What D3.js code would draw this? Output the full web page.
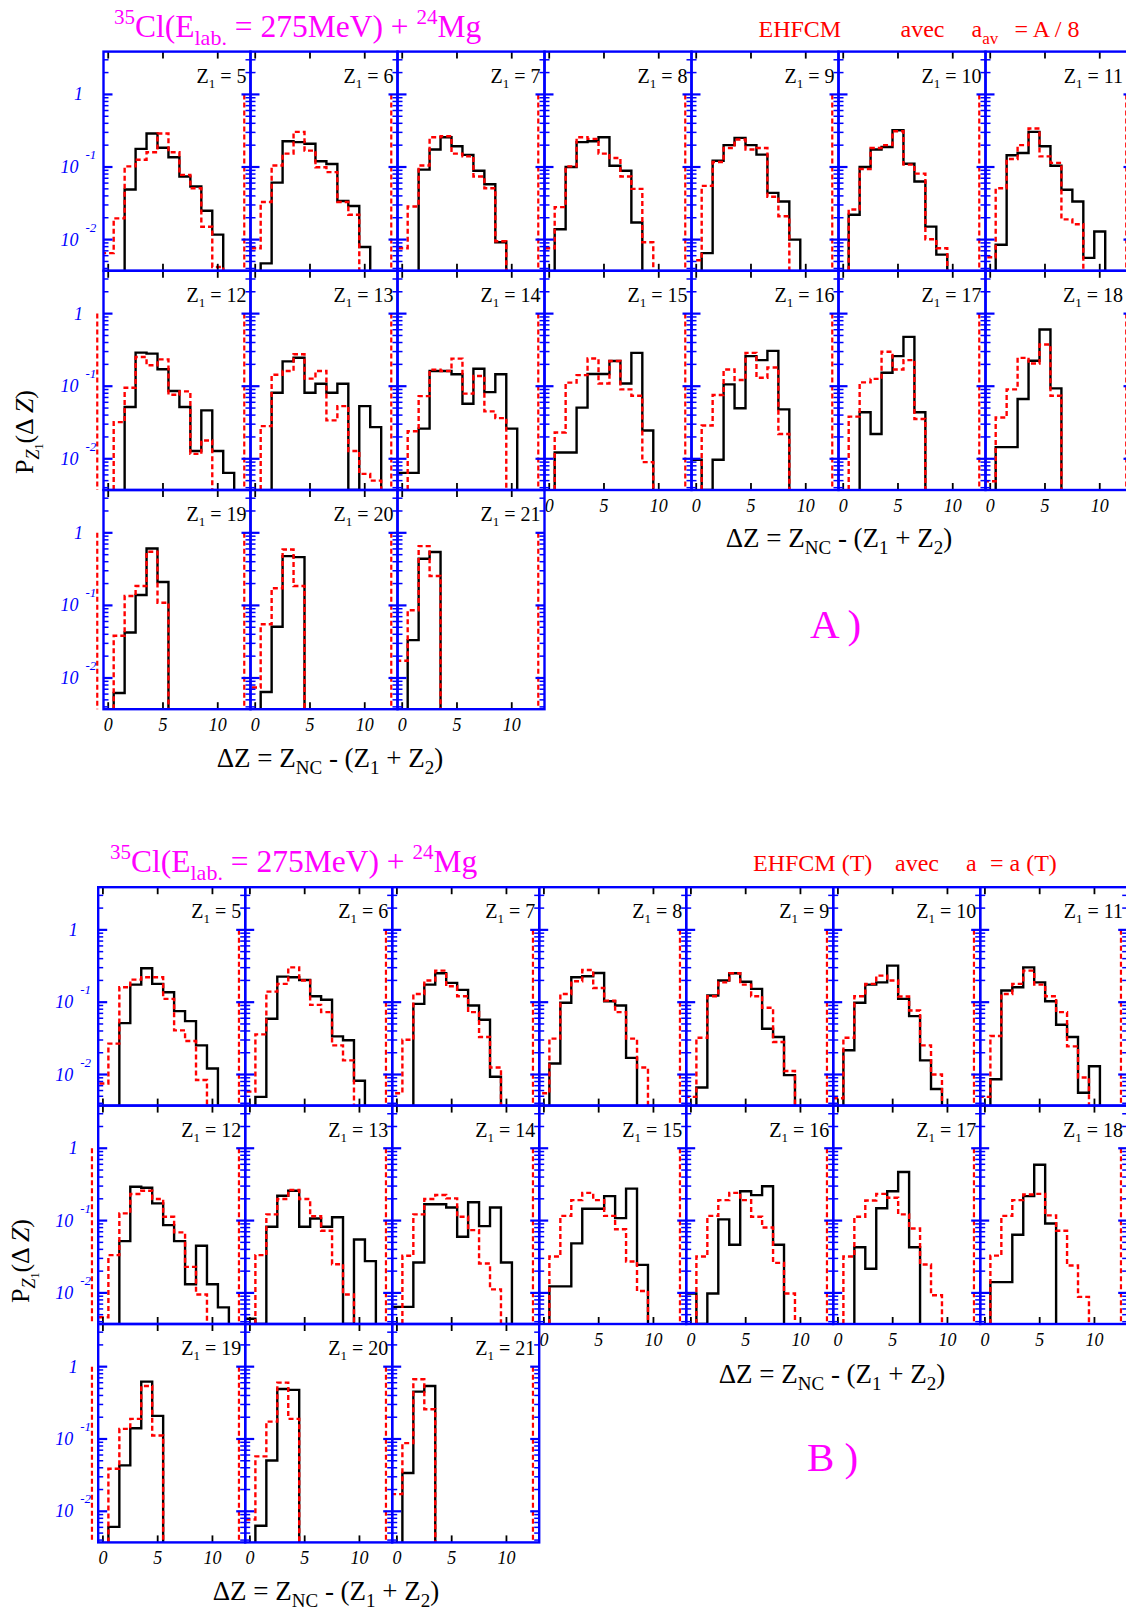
<!DOCTYPE html>
<html><head><meta charset="utf-8">
<script src="https://cdn.jsdelivr.net/npm/d3@7"></script>
<style>
body{margin:0;background:#fff}
svg{display:block}
text{font-family:"Liberation Serif","Times New Roman",serif}
</style>
</head><body>
<svg id="c" width="1126" height="1610"></svg>
<script>
// ---------- data ----------
const zLabels = d3.range(5, 22);            // Z1 = 5 ... 21
const xTicks = [0, 5, 10];
const yTickLabels = [{v: 1, b: "1", e: ""}, {v: 0.1, b: "10", e: "-1"}, {v: 0.01, b: "10", e: "-2"}];
// histograms: value of bin ΔZ = 0,1,2,...  (0 = empty)
const expA = [
 [0,0,0.049,0.178,0.29,0.184,0.136,0.074,0.054,0.025,0.0117],
 [0,0.0047,0.061,0.226,0.22,0.209,0.12,0.11,0.034,0.029,0.0079],
 [0,0,0.092,0.174,0.257,0.193,0.147,0.089,0.058,0.0092],
 [0,0.0139,0.1,0.22,0.226,0.257,0.104,0.089,0.0172],
 [0,0.0065,0.122,0.2,0.252,0.2,0.148,0.044,0.0335,0.01],
 [0,0.022,0.1,0.174,0.189,0.321,0.111,0.063,0.0151,0.0062],
 [0,0.0085,0.145,0.156,0.305,0.193,0.104,0.0486,0.0335,0.0056,0.0129],
 [0,0,0.0516,0.29,0.281,0.171,0.0858,0.0516,0.0128,0.0464,0.0128,0.0064],
 [0,0,0.0814,0.22,0.247,0.0814,0.108,0.0814,0.108,0,0.0532,0.0273],
 [0.0064,0.0064,0.026,0.162,0.162,0.146,0.0574,0.174,0.083,0.146,0.026],
 [0,0.0122,0.0122,0.0507,0.147,0.147,0.222,0.109,0.288,0.0245],
 [0.0097,0,0.0097,0.106,0.0496,0.26,0.229,0.307,0.048],
 [0,0,0.0437,0.022,0.153,0.26,0.478,0.0437],
 [0,0.0145,0.0145,0.0667,0.224,0.603,0.0934],
 [0,0.0062,0.0424,0.139,0.609,0.21],
 [0,0.0064,0.0507,0.478,0.463],
 [0,0.0332,0.44,0.543]
];
const modA = [
 [0.0065,0.0196,0.102,0.126,0.16,0.29,0.16,0.078,0.051,0.015,0.0042],
 [0.0076,0.033,0.105,0.153,0.305,0.168,0.099,0.085,0.033,0.022],
 [0.0076,0.0286,0.105,0.257,0.265,0.153,0.14,0.074,0.051,0.0095],
 [0.0076,0.028,0.102,0.257,0.244,0.153,0.133,0.074,0.05,0.0092],
 [0.0052,0.055,0.117,0.183,0.239,0.174,0.183,0.039,0.021],
 [0,0.026,0.094,0.183,0.2,0.311,0.108,0.081,0.0101,0.0076],
 [0.0057,0.051,0.129,0.2,0.339,0.14,0.114,0.019,0.0163],
 [0,0.032,0.0954,0.252,0.194,0.234,0.0764,0.085,0.0117,0.0179],
 [0,0.0282,0.144,0.162,0.275,0.127,0.162,0.0338,0.0532,0.0128,0.0062,0.005],
 [0,0.024,0.073,0.169,0.162,0.24,0.079,0.138,0.045,0.0363],
 [0,0.023,0.112,0.142,0.241,0.109,0.222,0.0905,0.074,0.009],
 [0,0.0287,0.0756,0.17,0.122,0.288,0.131,0.181,0.022],
 [0,0.0381,0.113,0.126,0.298,0.17,0.229,0.0354],
 [0.0049,0.037,0.0905,0.246,0.206,0.375,0.074],
 [0,0.0381,0.135,0.185,0.548,0.109],
 [0.0074,0.0551,0.172,0.59,0.185],
 [0.0173,0.0859,0.656,0.254]
];
const expB = [
 [0,0,0.0514,0.175,0.294,0.179,0.137,0.0752,0.0548,0.0253,0.0121],
 [0,0.0049,0.059,0.226,0.221,0.203,0.121,0.108,0.0337,0.0297,0.0082],
 [0,0,0.0948,0.175,0.251,0.185,0.148,0.09,0.0571,0.0093],
 [0,0.0142,0.098,0.221,0.228,0.253,0.103,0.09,0.017],
 [0,0.0066,0.124,0.199,0.251,0.192,0.153,0.043,0.033,0.0098],
 [0,0.0216,0.098,0.175,0.188,0.32,0.111,0.0642,0.0157,0.0063],
 [0,0.0086,0.145,0.161,0.303,0.188,0.103,0.0488,0.033,0.0056,0.013],
 [0,0,0.052,0.294,0.285,0.173,0.0866,0.052,0.0132,0.0448,0.0132,0.0063],
 [0.0044,0,0.0822,0.221,0.259,0.0822,0.107,0.0822,0.111,0,0.0548,0.0275],
 [0.0064,0.0064,0.0263,0.168,0.168,0.152,0.0597,0.179,0.0839,0.152,0.0263],
 [0,0.0123,0.0123,0.0484,0.146,0.146,0.218,0.108,0.277,0.0244],
 [0.0098,0,0.0098,0.104,0.0464,0.255,0.225,0.298,0.0464],
 [0,0,0.0427,0.0216,0.148,0.255,0.469,0.0427],
 [0,0.0141,0.0141,0.0636,0.218,0.591,0.091],
 [0,0.0061,0.0431,0.141,0.621,0.209],
 [0,0.0063,0.0505,0.492,0.477],
 [0,0.0338,0.452,0.541]
];
const modB = [
 [0.0075,0.0267,0.161,0.205,0.221,0.221,0.111,0.0407,0.029,0.0084],
 [0.0058,0.0359,0.14,0.179,0.303,0.199,0.0919,0.0728,0.0253,0.0157],
 [0.0055,0.0303,0.13,0.199,0.273,0.166,0.121,0.0728,0.033,0.0125],
 [0.0055,0.0313,0.13,0.195,0.279,0.157,0.105,0.0728,0.0313,0.0125],
 [0.0049,0.0323,0.121,0.188,0.251,0.175,0.121,0.0836,0.0282,0.0112],
 [0.0047,0.0323,0.121,0.179,0.233,0.199,0.12,0.0768,0.0253,0.01],
 [0.0049,0.034,0.13,0.179,0.273,0.175,0.121,0.0728,0.0245,0.0091],
 [0.0046,0.0333,0.126,0.233,0.259,0.199,0.113,0.0686,0.0229,0.0095],
 [0,0.0333,0.122,0.199,0.265,0.199,0.115,0.0723,0.0249,0.0095],
 [0,0.0326,0.122,0.199,0.226,0.203,0.113,0.0738,0.0255,0.0112],
 [0,0.0318,0.116,0.192,0.242,0.192,0.116,0.076,0.0272,0.0106],
 [0,0.0318,0.116,0.192,0.242,0.192,0.113,0.0802,0.026,0.0098],
 [0,0.0318,0.113,0.19,0.234,0.207,0.122,0.0777,0.0247,0.0093],
 [0,0.0328,0.116,0.192,0.23,0.234,0.118,0.0722,0.0239,0.0088],
 [0,0.0388,0.138,0.19,0.541,0.112],
 [0.0077,0.0574,0.174,0.601,0.19],
 [0.0173,0.0876,0.669,0.258]
];
// model-curve edge spikes (ΔZ = -1, value 1) per row: column slots
const spikeCols = [[1,2,3,4,5,6,7],[0,1,2,3,4,5,6,7],[0,1,2,3]];
const spikeX = -1, spikeV = 1;

// ---------- layout ----------
const PAGE_W = 1126;
const W = 147, NC = 7;
const xDom = [-0.43, 12.99];
const yDom = [Math.pow(10, -2.43), Math.pow(10, 0.59)];
const BLUE = "#0000ff", RED = "#ff0000", MAG = "#ff00ff";

const figs = [
  {id: "A", left: 103.5, top: 51.6, rowH: 219.2, exp: expA, mod: modA,
   titleX: 114, titleY: 37, letter: "A )", letterX: 810, letterY: 638,
   xt: [{cx: 330, y: 767}, {cx: 839, y: 547}], yt: {x: 33, y: 432}},
  {id: "B", left: 98.2, top: 887.2, rowH: 218.4, exp: expB, mod: modB,
   titleX: 110, titleY: 871.5, letter: "B )", letterX: 807, letterY: 1471,
   xt: [{cx: 326, y: 1600}, {cx: 832, y: 1383}], yt: {x: 29, y: 1261}}
];

const svg = d3.select("#c");
const defs = svg.append("defs");

function stepPoints(vals, ymin) {
  const first = vals.findIndex(v => v > 0);
  let last = vals.length - 1;
  while (last >= 0 && !(vals[last] > 0)) last--;
  const pts = [[first - 0.5, ymin]];
  for (let k = first; k <= last; k++) {
    const v = vals[k] > 0 ? vals[k] : ymin;
    pts.push([k - 0.5, v], [k + 0.5, v]);
  }
  pts.push([last + 0.5, ymin]);
  return pts;
}

figs.forEach(f => {
  const g = svg.append("g");
  const panelGeom = i => {
    const row = Math.floor(i / NC), col = i % NC;
    const x0 = f.left + col * W, y0 = f.top + row * f.rowH;
    return {row, col, x0, y0,
      xs: d3.scaleLinear().domain(xDom).range([x0, x0 + W]),
      ys: d3.scaleLog().domain(yDom).range([y0 + f.rowH, y0])};
  };

  // spikes (drawn below frames, unclipped)
  spikeCols.forEach((cols, row) => {
    cols.forEach(col => {
      const x0 = f.left + col * W, y0 = f.top + row * f.rowH;
      const xs = d3.scaleLinear().domain(xDom).range([x0, x0 + W]);
      const ys = d3.scaleLog().domain(yDom).range([y0 + f.rowH, y0]);
      g.append("line").attr("x1", xs(spikeX)).attr("x2", xs(spikeX))
        .attr("y1", ys(spikeV)).attr("y2", ys(yDom[0]))
        .attr("stroke", RED).attr("stroke-width", 2.2).attr("stroke-dasharray", "5,3");
    });
  });

  zLabels.forEach((z, i) => {
    const p = panelGeom(i);
    const cid = "clip" + f.id + i;
    defs.append("clipPath").attr("id", cid).append("rect")
      .attr("x", p.x0).attr("y", p.y0).attr("width", W).attr("height", f.rowH);
    const line = d3.line().x(d => p.xs(d[0])).y(d => p.ys(d[1]));
    const pg = g.append("g").attr("clip-path", `url(#${cid})`);
    pg.append("path").attr("d", line(stepPoints(f.exp[i], yDom[0])))
      .attr("fill", "none").attr("stroke", "#000").attr("stroke-width", 2.4);
    pg.append("path").attr("d", line(stepPoints(f.mod[i], yDom[0])))
      .attr("fill", "none").attr("stroke", RED).attr("stroke-width", 2.4)
      .attr("stroke-dasharray", "5,3");
  });

  // frames and ticks
  zLabels.forEach((z, i) => {
    const p = panelGeom(i);
    const bottom = p.y0 + f.rowH, right = p.x0 + W;
    xTicks.forEach(t => {
      g.append("line").attr("x1", p.xs(t)).attr("x2", p.xs(t))
        .attr("y1", bottom).attr("y2", bottom - 7).attr("stroke", "#000").attr("stroke-width", 1.8);
      g.append("line").attr("x1", p.xs(t)).attr("x2", p.xs(t))
        .attr("y1", p.y0).attr("y2", p.y0 + 7).attr("stroke", "#000").attr("stroke-width", 1.8);
    });
    p.ys.ticks().forEach(t => {
      const lg = Math.log10(t);
      const major = Math.abs(lg - Math.round(lg)) < 1e-6;
      const len = major ? 9 : 5;
      [[p.x0, 1], [right, -1]].forEach(([xx, s]) => {
        g.append("line").attr("x1", xx).attr("x2", xx + s * len)
          .attr("y1", p.ys(t)).attr("y2", p.ys(t))
          .attr("stroke", BLUE).attr("stroke-width", major ? 2.2 : 1.5);
      });
    });
    g.append("rect").attr("x", p.x0).attr("y", p.y0).attr("width", W).attr("height", f.rowH)
      .attr("fill", "none").attr("stroke", BLUE).attr("stroke-width", 2.4);

    // panel label (kept inside the page)
    const t = g.append("text").attr("x", Math.min(right - 4, PAGE_W - 3)).attr("y", p.y0 + 31)
      .attr("text-anchor", "end").attr("font-size", 20).attr("fill", "#000");
    t.append("tspan").text("Z");
    t.append("tspan").attr("font-size", 13).attr("dy", 5).text("1");
    t.append("tspan").attr("dy", -5).text("\u00a0=\u00a0" + z);

    if (i + NC >= zLabels.length) {
      xTicks.forEach(tv => {
        g.append("text").attr("x", p.xs(tv)).attr("y", bottom + 21.5)
          .attr("text-anchor", "middle").attr("font-size", 18).attr("font-style", "italic")
          .attr("fill", "#000").text(tv);
      });
    }
    if (p.col === 0) {
      yTickLabels.forEach(d => {
        const yy = p.ys(d.v);
        if (d.e === "") {
          g.append("text").attr("x", p.x0 - 20.5).attr("y", yy + 6)
            .attr("text-anchor", "end").attr("font-size", 18).attr("font-style", "italic")
            .attr("fill", BLUE).text(d.b);
        } else {
          g.append("text").attr("x", p.x0 - 25).attr("y", yy + 6)
            .attr("text-anchor", "end").attr("font-size", 18).attr("font-style", "italic")
            .attr("fill", BLUE).text(d.b);
          g.append("text").attr("x", p.x0 - 18).attr("y", yy - 8)
            .attr("text-anchor", "start").attr("font-size", 13).attr("font-style", "italic")
            .attr("fill", BLUE).text(d.e);
        }
      });
    }
  });

  // title
  const tt = g.append("text").attr("x", f.titleX).attr("y", f.titleY)
    .attr("font-size", 31.5).attr("fill", MAG);
  tt.append("tspan").attr("font-size", 21).attr("dy", -13).text("35");
  tt.append("tspan").attr("dy", 13).text("Cl(E");
  tt.append("tspan").attr("font-size", 22).attr("dy", 8).text("lab.");
  tt.append("tspan").attr("dy", -8).text("\u00a0=\u00a0275MeV)\u00a0+\u00a0");
  tt.append("tspan").attr("font-size", 21).attr("dy", -13).text("24");
  tt.append("tspan").attr("dy", 13).text("Mg");

  const mt = (x, txt) => g.append("text").attr("x", x).attr("y", f.titleY - 0.5)
    .attr("font-size", 24).attr("fill", RED).text(txt);
  if (f.id === "A") {
    mt(758.5, "EHFCM");
    mt(900.5, "avec");
    const a = mt(971.5, "a");
    a.append("tspan").attr("font-size", 17).attr("dy", 7).text("av");
    mt(1014.5, "= A / 8");
  } else {
    mt(753, "EHFCM (T)");
    mt(895, "avec");
    mt(966, "a");
    mt(990, "= a (T)");
  }

  g.append("text").attr("x", f.letterX).attr("y", f.letterY).attr("font-size", 41)
    .attr("fill", MAG).text(f.letter);

  f.xt.forEach(d => {
    const t = g.append("text").attr("x", d.cx).attr("y", d.y).attr("text-anchor", "middle")
      .attr("font-size", 27).attr("fill", "#000");
    t.append("tspan").text("\u0394Z = Z");
    t.append("tspan").attr("font-size", 19).attr("dy", 7).text("NC");
    t.append("tspan").attr("dy", -7).text(" - (Z");
    t.append("tspan").attr("font-size", 19).attr("dy", 7).text("1");
    t.append("tspan").attr("dy", -7).text(" + Z");
    t.append("tspan").attr("font-size", 19).attr("dy", 7).text("2");
    t.append("tspan").attr("dy", -7).text(")");
  });

  const yt = g.append("text").attr("transform", `translate(${f.yt.x},${f.yt.y}) rotate(-90)`)
    .attr("text-anchor", "middle").attr("font-size", 26).attr("fill", "#000");
  yt.append("tspan").text("P");
  yt.append("tspan").attr("font-size", 18).attr("font-style", "italic").attr("dy", 6).text("Z");
  yt.append("tspan").attr("font-size", 12).attr("dy", 4).text("1");
  yt.append("tspan").attr("dy", -10).text("(\u0394 ");
  yt.append("tspan").attr("font-style", "italic").text("Z");
  yt.append("tspan").text(")");
});
</script>
</body></html>
